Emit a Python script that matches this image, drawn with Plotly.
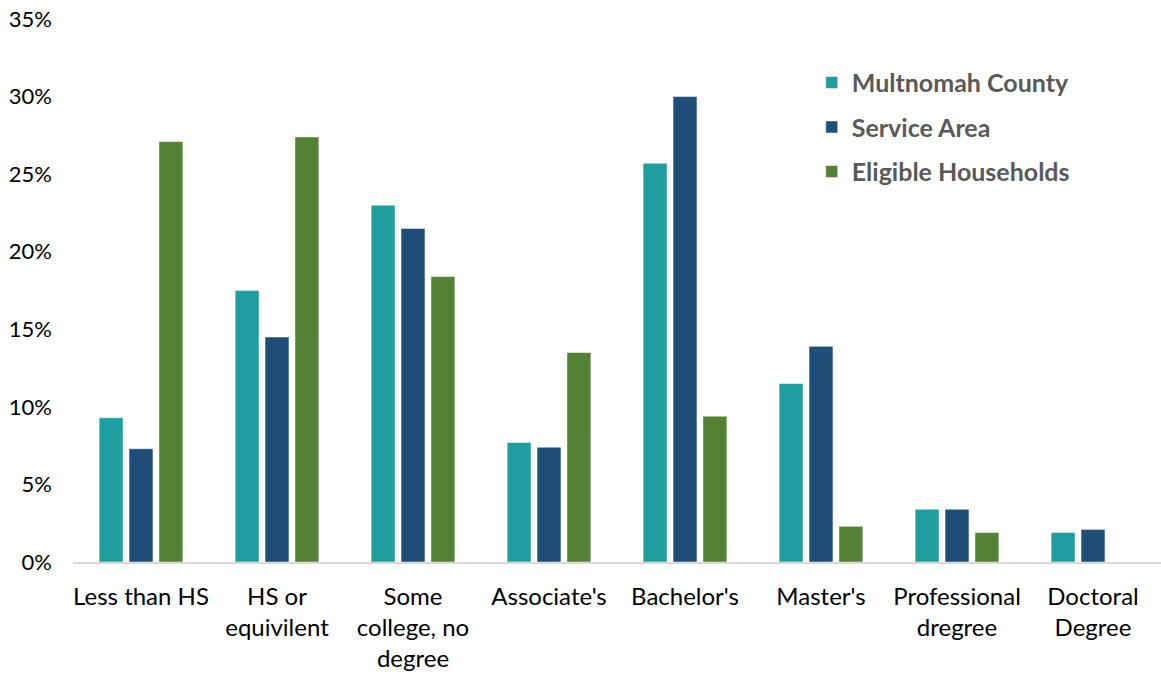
import plotly.graph_objects as go

categories = ["Less than HS", "HS or<br>equivilent", "Some<br>college, no<br>degree", "Associate's",
              "Bachelor's", "Master's", "Professional<br>dregree", "Doctoral<br>Degree"]
multnomah = [0.093, 0.175, 0.230, 0.077, 0.257, 0.115, 0.034, 0.019]
service_area = [0.073, 0.145, 0.215, 0.074, 0.300, 0.139, 0.034, 0.021]
eligible = [0.271, 0.274, 0.184, 0.135, 0.094, 0.023, 0.019, 0.0]

series = [
    ("Multnomah County", multnomah, "#1F9EA0"),
    ("Service Area", service_area, "#1F4E79"),
    ("Eligible Households", eligible, "#548235"),
]

fig = go.Figure()
for i, (name, vals, color) in enumerate(series):
    fig.add_trace(go.Bar(
        x=categories, y=vals, name=name, legendgroup=str(i),
        marker=dict(color=color, line=dict(color="rgba(255,255,255,0.5)", width=1)),
    ))

FONT = "Lato"
fig.update_layout(
    width=1161, height=675,
    margin=dict(l=73, r=0, t=19, b=113),
    paper_bgcolor="white", plot_bgcolor="white",
    barmode="group", bargap=0.34, bargroupgap=0.2,
    font=dict(family=FONT, size=22, color="#000000"),
    legend=dict(
        x=0.679, y=0.925, xanchor="left", yanchor="top",
        traceorder="grouped", tracegroupgap=9,
        font=dict(family=FONT, size=25, color="#595959", weight="bold"),
        bgcolor="rgba(0,0,0,0)", itemwidth=30,
    ),
    xaxis=dict(
        showgrid=False, showline=True, linecolor="#D9D9D9", linewidth=2,
        ticks="", tickfont=dict(family=FONT, size=24, color="#000000"),
        ticklabelstandoff=12,
    ),
    yaxis=dict(
        range=[0, 0.35], dtick=0.05, tickformat=".0%",
        showgrid=False, showline=False, zeroline=False, ticks="",
        tickfont=dict(family=FONT, size=22, color="#000000"),
        ticklabelstandoff=20,
    ),
)

fig.write_html("out.html")
